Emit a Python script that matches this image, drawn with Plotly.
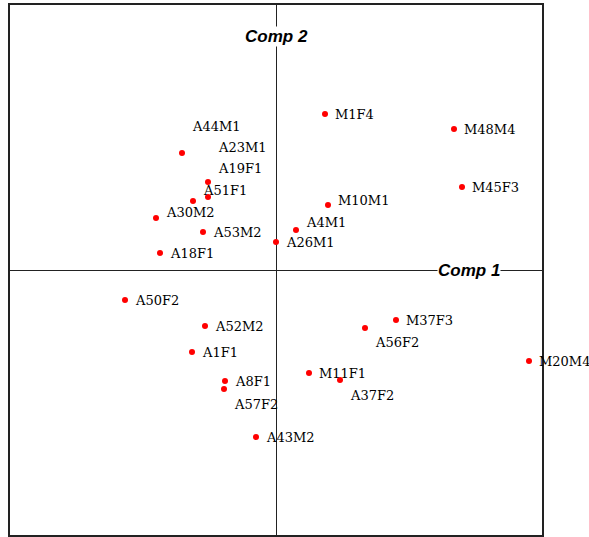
import plotly.graph_objects as go

# Sample names and their component scores
names = ["A44M1", "A23M1", "A19F1", "A51F1", "A30M2", "A53M2", "A18F1",
         "A26M1", "A4M1", "M10M1", "M1F4", "M48M4", "M45F3",
         "A50F2", "A52M2", "A1F1", "A8F1", "A57F2", "A43M2",
         "M11F1", "A37F2", "A56F2", "M37F3", "M20M4"]
comp1 = [-0.94, -0.68, -0.68, -0.83, -1.20, -0.73, -1.16,
         0.00, 0.20, 0.52, 0.49, 1.78, 1.86,
         -1.51, -0.71, -0.84, -0.51, -0.52, -0.20,
         0.33, 0.64, 0.89, 1.20, 2.53]
comp2 = [1.17, 0.88, 0.73, 0.69, 0.52, 0.38, 0.17,
         0.28, 0.40, 0.65, 1.56, 1.41, 0.83,
         -0.30, -0.56, -0.82, -1.11, -1.19, -1.67,
         -1.03, -1.10, -0.58, -0.50, -0.91]

# label vertical offsets in pixels (positive = upward), to avoid overlaps
label_dy = {"A44M1": 27, "A23M1": 35, "A19F1": 29, "A51F1": 11, "A30M2": 6,
            "M10M1": 5, "A4M1": 8, "A57F2": -15, "A56F2": -14, "A37F2": -15}

fig = go.Figure()
fig.add_trace(go.Scatter(
    x=comp1, y=comp2, mode="markers",
    marker=dict(color="#ff0000", size=6),
    hoverinfo="text", hovertext=names, showlegend=False,
))

for n, xv, yv in zip(names, comp1, comp2):
    fig.add_annotation(
        x=xv, y=yv, xref="x", yref="y", text=n, showarrow=False,
        xanchor="left", yanchor="middle", xshift=8, yshift=label_dy.get(n, 0),
        font=dict(family="DejaVu Serif", size=13, color="black"),
    )

title_font = dict(family="Liberation Sans", size=17, color="black")
fig.add_annotation(x=1.93, y=0, xref="x", yref="y",
                   text="<b><i>Comp 1</i></b>", showarrow=False,
                   bgcolor="white", borderpad=0, font=title_font)
fig.add_annotation(x=0, y=2.34, xref="x", yref="y",
                   text="<b><i>Comp 2</i></b>", showarrow=False,
                   bgcolor="white", borderpad=0, font=title_font)

axis_common = dict(
    showgrid=False, showticklabels=False, ticks="",
    zeroline=True, zerolinecolor="#222", zerolinewidth=1,
    showline=True, linecolor="#222", linewidth=1.5, mirror=True,
)
fig.update_xaxes(range=[-2.66, 2.66], **axis_common)
fig.update_yaxes(range=[-2.65, 2.65], **axis_common)

fig.update_layout(
    width=589, height=537,
    margin=dict(l=10, r=47, t=5, b=2),
    plot_bgcolor="white", paper_bgcolor="white",
)

fig.write_html("out.html",
               config={"displayModeBar": False},
               post_script="document.body.style.margin='0';")
